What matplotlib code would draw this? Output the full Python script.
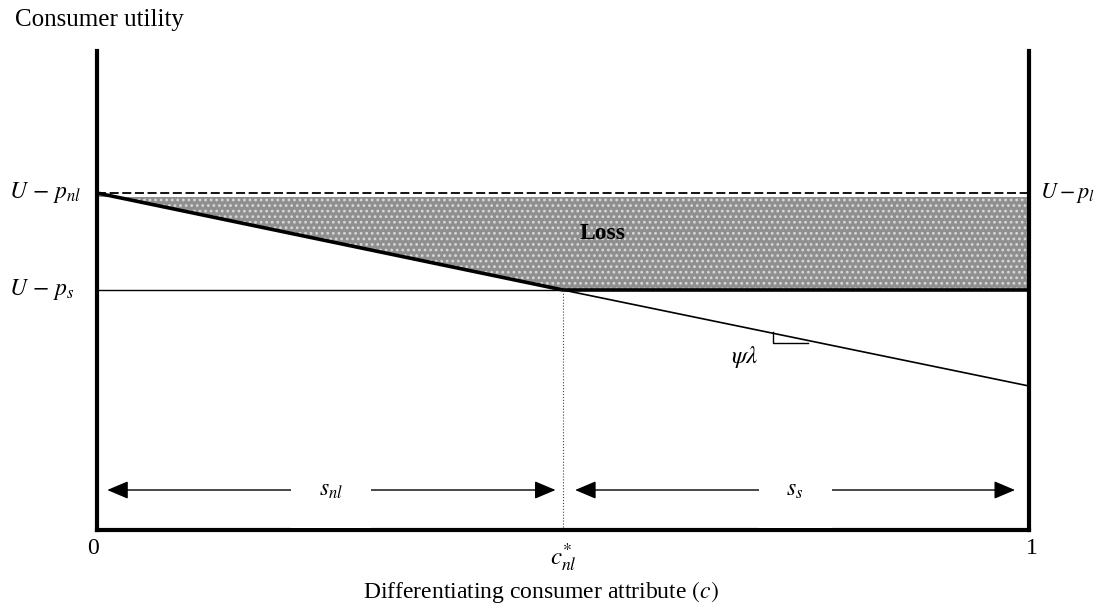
import matplotlib.pyplot as plt

plt.rcParams['font.family'] = ['Liberation Serif', 'DejaVu Serif']
plt.rcParams['mathtext.fontset'] = 'stix'
plt.rcParams['hatch.linewidth'] = 1.2

# Levels (utility units, bottom axis = 0)
c_star = 0.5
u_nl = 3.37       # U - p_nl (dashed, same as U - p_l)
u_s = 2.40        # U - p_s
loss_top = 3.33
y_top = 4.79

# consumer utility line, kink at c*
line_x = [0.0, 0.5, 1.0]
line_y = [3.37, 2.40, 1.44]
env_y = [3.37, 2.40, 2.40]   # bold upper envelope

# segment arrows along the bottom
arrow_y = 0.40
span_nl = [0.011, 0.492]
span_s = [0.513, 0.985]

fig = plt.figure(figsize=(11.01, 6.04), dpi=100)
ax = fig.add_axes([0.0881, 0.1225, 0.8465, 0.7931])
ax.set_xlim(0, 1)
ax.set_ylim(0, y_top)
ax.set_xticks([])
ax.set_yticks([])
ax.spines['top'].set_visible(False)
for s in ['left', 'right', 'bottom']:
    ax.spines[s].set_linewidth(3)

# loss area
ax.fill_between(line_x, env_y, loss_top, facecolor='#8f8f8f', edgecolor='#d8d8d8',
                hatch='...', linewidth=0)

# lines
ax.plot([0, 1], [u_nl, u_nl], color='black', lw=1.3, dashes=[5, 2])
ax.plot([0, c_star], [u_s, u_s], color='black', lw=1.0)
ax.plot(line_x[1:], line_y[1:], color='black', lw=1.2)
ax.plot(line_x, env_y, color='black', lw=2.6, solid_joinstyle='miter')
ax.plot([c_star, c_star], [0, u_s], color='#444444', lw=0.8, ls=':')

# slope marker
ax.plot([0.725, 0.725, 0.763], [1.98, 1.87, 1.87], color='black', lw=1.0)
ax.text(0.695, 1.73, r'$\psi\lambda$', fontsize=18, ha='center', va='center')

ax.text(0.542, 2.96, 'Loss', fontsize=17, fontweight='bold', ha='center', va='center')

# arrows with labels
for span, lab in [(span_nl, r'$s_{nl}$'), (span_s, r'$s_s$')]:
    ax.annotate('', xy=(span[0], arrow_y), xytext=(span[1], arrow_y),
                arrowprops=dict(arrowstyle='<|-|>,head_length=1.3,head_width=0.55',
                                color='black', lw=1.0, shrinkA=0, shrinkB=0))
    mid = (span[0] + span[1]) / 2
    ax.text(mid, arrow_y, lab, fontsize=17, ha='center', va='center',
            bbox=dict(facecolor='white', edgecolor='none', pad=20))

# labels
ax.text(-0.088, 5.10, 'Consumer utility', fontsize=18, ha='left', va='center', clip_on=False)
ax.text(-0.094, u_nl, r'$U\,-\,p_{nl}$', fontsize=17, ha='left', va='center')
ax.text(-0.094, u_s, r'$U\,-\,p_s$', fontsize=17, ha='left', va='center')
ax.text(1.012, u_nl, r'$U-p_l$', fontsize=16, ha='left', va='center')
ax.text(-0.004, -0.18, '0', fontsize=17, ha='center', va='center')
ax.text(1.003, -0.18, '1', fontsize=17, ha='center', va='center')
ax.text(c_star, -0.27, r'$c_{nl}^{*}$', fontsize=18, ha='center', va='center')
ax.text(0.476, -0.62, r'Differentiating consumer attribute $(c)$', fontsize=17,
        ha='center', va='center')

fig.savefig('out.png', dpi=100)
